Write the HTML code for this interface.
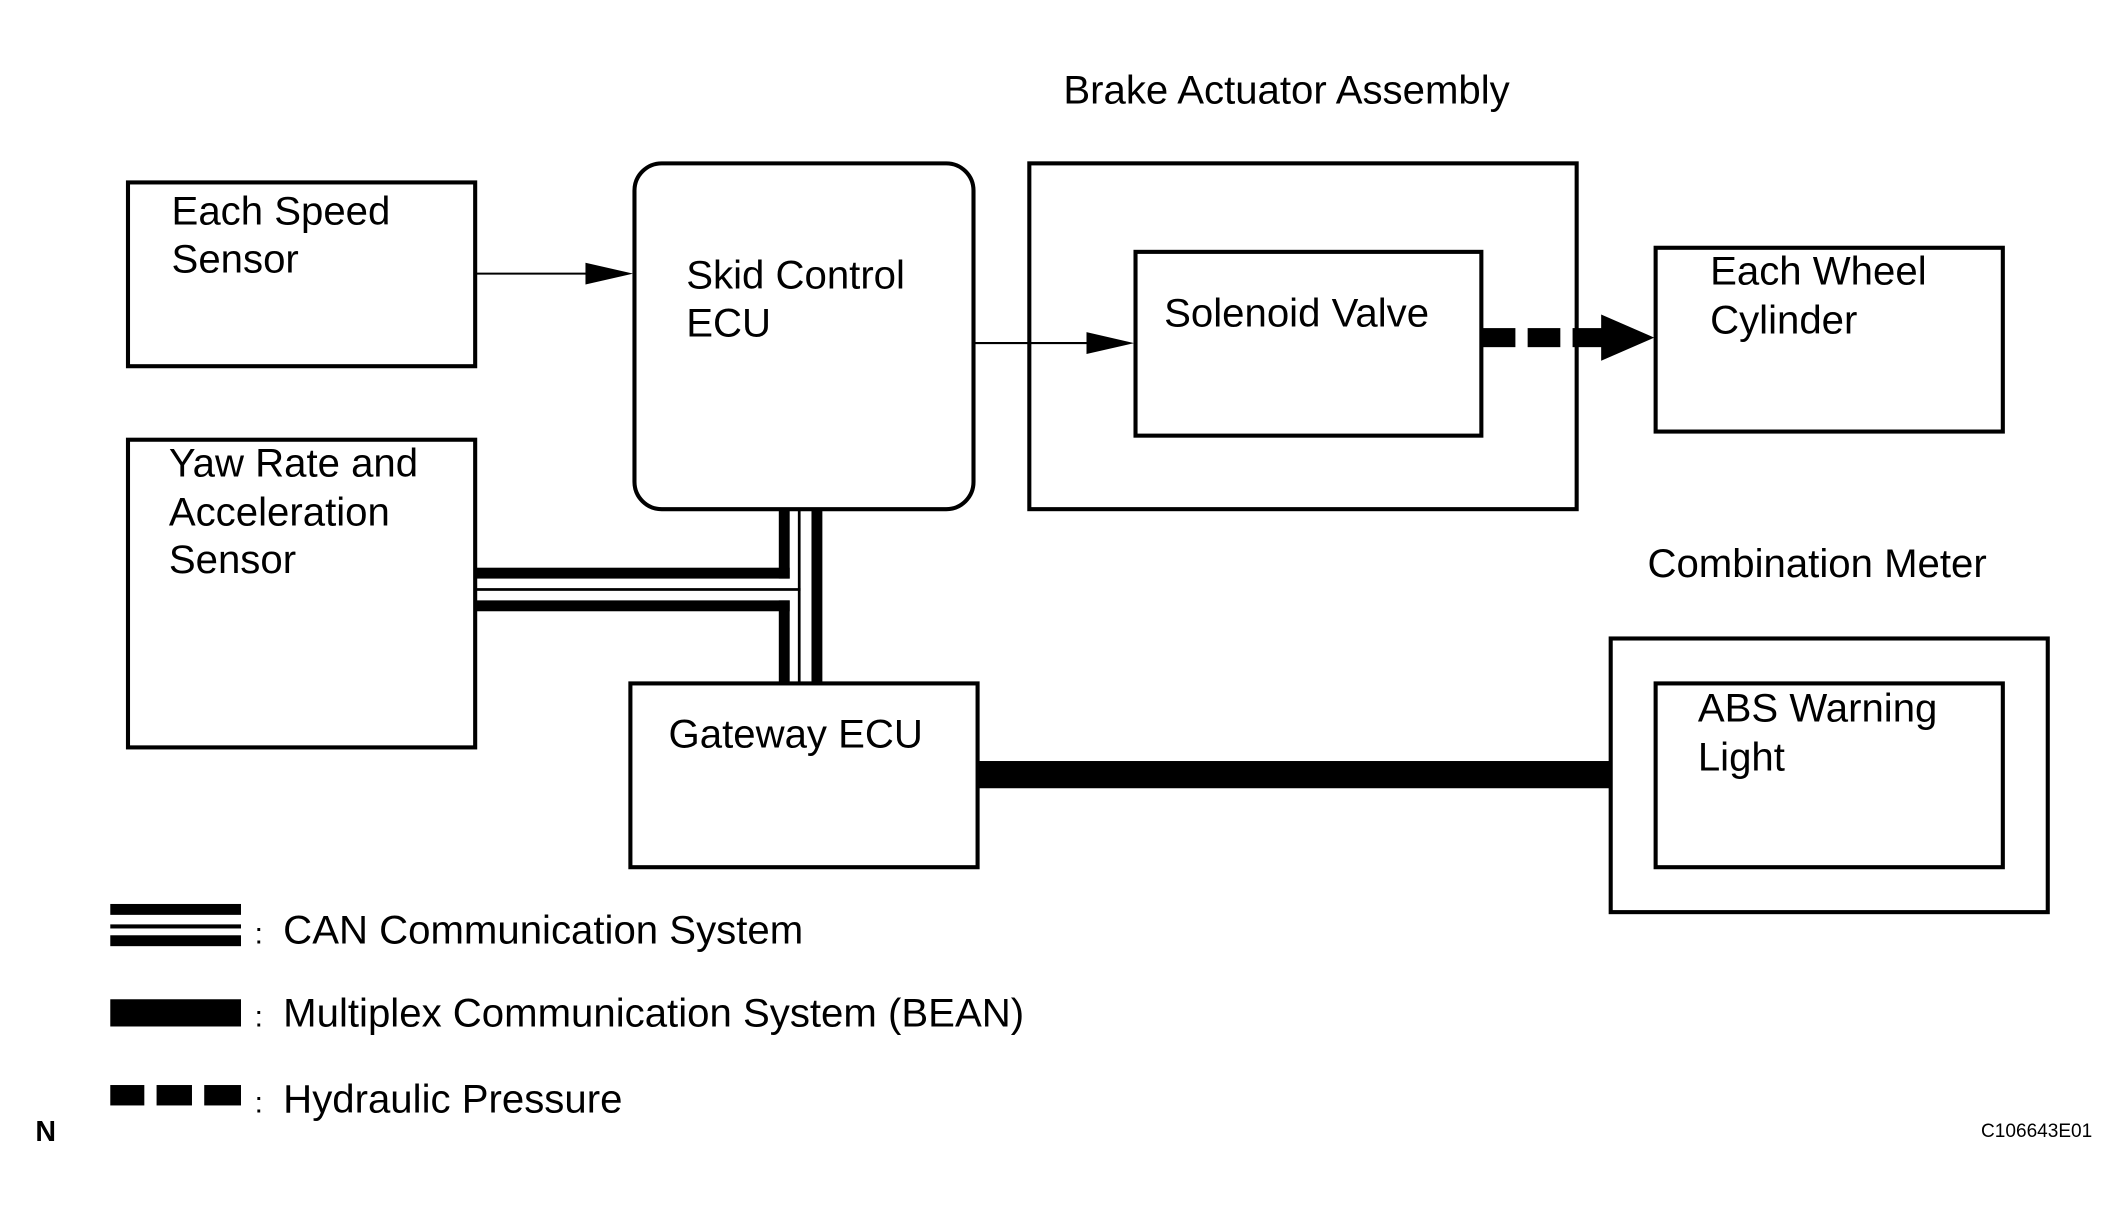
<!DOCTYPE html>
<html><head><meta charset="utf-8"><style>html,body{margin:0;padding:0;background:#fff}svg{display:block}</style></head>
<body>
<svg width="2124" height="1213" viewBox="0 0 1560 891" preserveAspectRatio="none" xmlns="http://www.w3.org/2000/svg" font-family="Liberation Sans, Arial, sans-serif" font-size="29.5" fill="#000">
<g fill="none" stroke="#000" stroke-width="3">
<rect x="94" y="134" width="255" height="135"/>
<rect x="466" y="120" width="249" height="254" rx="20"/>
<rect x="756" y="120" width="402" height="254"/>
<rect x="834" y="185" width="254" height="135"/>
<rect x="1216" y="182" width="255" height="135"/>
<rect x="94" y="323" width="255" height="226"/>
<rect x="463" y="502" width="255" height="135"/>
<rect x="1183" y="469" width="321" height="201"/>
<rect x="1216" y="502" width="255" height="135"/>
<line x1="349" y1="201" x2="435" y2="201" stroke-width="1.5"/>
<line x1="715" y1="252" x2="803" y2="252" stroke-width="1.5"/>
</g>
<polygon points="430,193 465,201 430,209"/>
<polygon points="798,244 833,252 798,260"/>
<rect x="1088" y="241" width="25" height="14"/>
<rect x="1122" y="241" width="24" height="14"/>
<rect x="1155" y="241" width="24" height="14"/>
<polygon points="1176,231 1215,248 1176,265"/>
<rect x="596" y="374" width="8" height="127"/>
<rect x="586" y="374" width="2" height="127"/>
<rect x="572" y="374" width="8" height="51"/>
<rect x="349" y="417" width="231" height="8"/>
<rect x="349" y="432" width="239" height="2"/>
<rect x="349" y="441" width="231" height="8"/>
<rect x="572" y="441" width="8" height="60"/>
<rect x="718" y="559" width="465" height="20"/>
<rect x="81" y="664" width="96" height="8"/>
<rect x="81" y="679" width="96" height="3"/>
<rect x="81" y="687" width="96" height="8"/>
<rect x="81" y="734" width="96" height="20"/>
<rect x="81" y="797" width="25" height="15"/>
<rect x="115" y="797" width="26" height="15"/>
<rect x="150" y="797" width="27" height="15"/>
<g>
<text x="126" y="165">Each Speed</text>
<text x="126" y="200">Sensor</text>
<text x="504" y="212">Skid Control</text>
<text x="504" y="247">ECU</text>
<text x="781" y="76">Brake Actuator Assembly</text>
<text x="855" y="240">Solenoid Valve</text>
<text x="1256" y="209">Each Wheel</text>
<text x="1256" y="245">Cylinder</text>
<text x="124" y="350">Yaw Rate and</text>
<text x="124" y="386">Acceleration</text>
<text x="124" y="421">Sensor</text>
<text x="491" y="549">Gateway ECU</text>
<text x="1210" y="424">Combination Meter</text>
<text x="1247" y="530">ABS Warning</text>
<text x="1247" y="566">Light</text>
<text x="187" y="693" font-size="22">:</text>
<text x="208" y="693">CAN Communication System</text>
<text x="187" y="754" font-size="22">:</text>
<text x="208" y="754">Multiplex Communication System (BEAN)</text>
<text x="187" y="817" font-size="22">:</text>
<text x="208" y="817">Hydraulic Pressure</text>
<text x="26" y="838" font-size="21" font-weight="bold">N</text>
<text x="1455" y="835" font-size="14">C106643E01</text>
</g>
</svg>
</body></html>
